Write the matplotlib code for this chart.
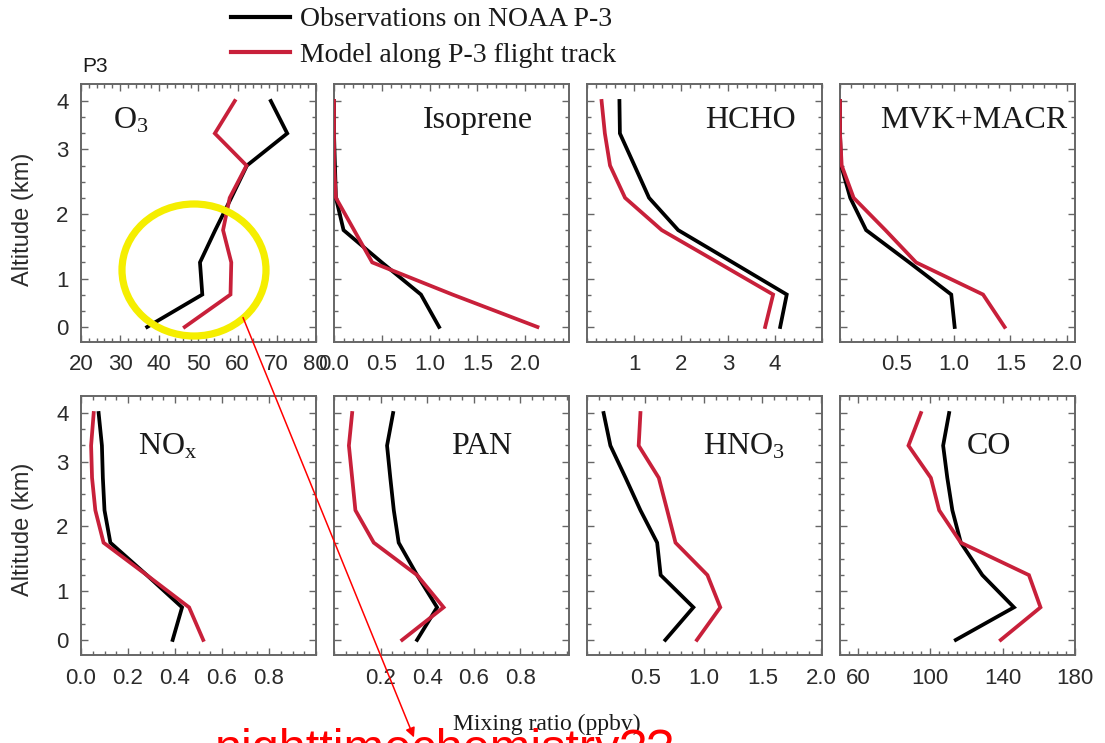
import numpy as np
import matplotlib
matplotlib.use('Agg')
import matplotlib.pyplot as plt
from matplotlib.ticker import FixedLocator, MultipleLocator
from matplotlib.patches import Ellipse, FancyArrowPatch
from matplotlib.lines import Line2D

# ---------------- data ----------------
altitude_km = [0.0, 0.67, 1.25, 1.75, 2.25, 2.75, 3.33, 4.0]

o3_obs = [36.9, 51.0, 50.4, 54.3, 58.4, 62.4, 72.7, 68.5]
o3_mod = [46.5, 58.2, 58.4, 56.3, 58.0, 62.3, 54.2, 59.3]
isop_obs = [1.10, 0.91, 0.50, 0.10, 0.02, 0.01, 0.0, 0.0]
isop_mod = [2.13, 1.24, 0.40, 0.21, 0.02, 0.0, 0.0, 0.0]
hcho_obs = [4.11, 4.25, 3.10, 1.94, 1.32, 1.01, 0.70, 0.69]
hcho_mod = [3.79, 3.96, 2.78, 1.59, 0.81, 0.49, 0.38, 0.31]
mvk_obs = [1.01, 0.98, 0.61, 0.23, 0.09, 0.01, 0.0, 0.0]
mvk_mod = [1.45, 1.26, 0.67, 0.40, 0.12, 0.015, 0.0, 0.0]
nox_obs = [0.39, 0.43, 0.28, 0.125, 0.10, 0.093, 0.089, 0.075]
nox_mod = [0.52, 0.46, 0.28, 0.096, 0.061, 0.047, 0.043, 0.054]
pan_obs = [0.357, 0.443, 0.357, 0.278, 0.257, 0.242, 0.228, 0.254]
pan_mod = [0.293, 0.471, 0.357, 0.171, 0.092, 0.078, 0.064, 0.078]
hno3_obs = [0.67, 0.91, 0.63, 0.60, 0.457, 0.33, 0.20, 0.142]
hno3_mod = [0.94, 1.14, 1.03, 0.757, 0.686, 0.614, 0.442, 0.457]
co_obs = [114.1, 146.3, 128.8, 116.9, 112.2, 109.4, 107.1, 110.4]
co_mod = [139.0, 161.0, 154.6, 116.9, 104.9, 100.3, 87.9, 94.8]

panel_names = [r'O$_3$', 'Isoprene', 'HCHO', 'MVK+MACR',
               r'NO$_\mathrm{x}$', 'PAN', r'HNO$_3$', 'CO']
obs_series = [o3_obs, isop_obs, hcho_obs, mvk_obs, nox_obs, pan_obs, hno3_obs, co_obs]
mod_series = [o3_mod, isop_mod, hcho_mod, mvk_mod, nox_mod, pan_mod, hno3_mod, co_mod]

xtick_values = [[20, 30, 40, 50, 60, 70, 80],
                [0.0, 0.5, 1.0, 1.5, 2.0],
                [1, 2, 3, 4],
                [0.5, 1.0, 1.5, 2.0],
                [0.0, 0.2, 0.4, 0.6, 0.8],
                [0.2, 0.4, 0.6, 0.8],
                [0.5, 1.0, 1.5, 2.0],
                [60, 100, 140, 180]]
xtick_labels = [['20', '30', '40', '50', '60', '70', '80'],
                ['0.0', '0.5', '1.0', '1.5', '2.0'],
                ['1', '2', '3', '4'],
                ['0.5', '1.0', '1.5', '2.0'],
                ['0.0', '0.2', '0.4', '0.6', '0.8'],
                ['0.2', '0.4', '0.6', '0.8'],
                ['0.5', '1.0', '1.5', '2.0'],
                ['60', '100', '140', '180']]
ytick_values = [0, 1, 2, 3, 4]
ytick_labels = ['0', '1', '2', '3', '4']

legend_labels = ['Observations on NOAA P-3', 'Model along P-3 flight track']

# ---------------- style / layout ----------------
plt.rcParams['mathtext.fontset'] = 'custom'
plt.rcParams['mathtext.rm'] = 'Liberation Serif'
plt.rcParams['mathtext.it'] = 'Liberation Serif:italic'

W, H = 1105, 743
fig = plt.figure(figsize=(W / 100, H / 100), dpi=100)


def fx(px):
    return px / W


def fy(py):
    return 1 - py / H


OBS_C = 'black'
MOD_C = '#c8203a'
FRAME_C = '#666666'
TICKLAB_C = '#2b2b2b'

# altitude axis is drawn on a non-uniform (piecewise) scale as in the original
KM_KNOTS = [-1, 0, 1, 2, 3, 4, 5]
U_KNOTS = [-3, 0, 3, 7, 11, 14, 17]


def fwd(y):
    return np.interp(y, KM_KNOTS, U_KNOTS)


def inv(u):
    return np.interp(u, U_KNOTS, KM_KNOTS)


col_left = [81, 334, 587, 840]
row_top = [84, 396]
row_bot = [342, 655]
ax_w = 235
xlims = [(20, 80.05), (0, 2.46), (0, 5.0), (0, 2.07),
         (0, 1.0), (0, 1.01), (0, 2.01), (50, 180.1)]
minor_steps = [2, 0.1, 0.2, 0.1, 0.05, 0.05, 0.1, 5]
label_pos = [(0.136, 0.828), (0.379, 0.828), (0.502, 0.828), (0.17, 0.828),
             (0.243, 0.776), (0.499, 0.776), (0.494, 0.776), (0.538, 0.776)]

for i in range(8):
    r, c = divmod(i, 4)
    left = fx(col_left[c])
    bottom = fy(row_bot[r])
    height = (row_bot[r] - row_top[r]) / H
    ax = fig.add_axes([left, bottom, ax_w / W, height])
    ax.set_yscale('function', functions=(fwd, inv))

    ax.plot(obs_series[i], altitude_km, color=OBS_C, lw=2.7, solid_joinstyle='miter', zorder=3)
    ax.plot(mod_series[i], altitude_km, color=MOD_C, lw=2.7, solid_joinstyle='miter', zorder=4)

    ax.set_xlim(*xlims[i])
    ax.set_ylim(inv(-0.93), inv(15.05))

    ax.xaxis.set_major_locator(FixedLocator(xtick_values[i]))
    ax.set_xticklabels(xtick_labels[i])
    ax.xaxis.set_minor_locator(MultipleLocator(minor_steps[i]))
    ax.yaxis.set_major_locator(FixedLocator(ytick_values))
    ax.yaxis.set_minor_locator(FixedLocator(list(inv(np.arange(0, 15)))))
    if c == 0:
        ax.set_yticklabels(ytick_labels)
    else:
        ax.set_yticklabels([])

    ax.tick_params(which='both', direction='in', top=True, right=True,
                   color=FRAME_C, width=1.0)
    ax.tick_params(which='major', length=5)
    ax.tick_params(which='minor', length=3)
    ax.tick_params(axis='x', which='major', pad=9, labelsize=16,
                   labelcolor=TICKLAB_C)
    ax.tick_params(axis='y', which='major', pad=9, labelsize=16,
                   labelcolor=TICKLAB_C)
    for lab in ax.get_xticklabels() + ax.get_yticklabels():
        lab.set_fontfamily('Liberation Sans')
    for sp in ax.spines.values():
        sp.set_color(FRAME_C)
        sp.set_linewidth(1.4)

    ax.text(label_pos[i][0], label_pos[i][1], panel_names[i], transform=ax.transAxes,
            ha='left', va='baseline', fontsize=23, family='Liberation Serif',
            color='#1a1a1a')

# y axis titles
for ycen in [219, 529]:
    fig.text(fx(23), fy(ycen), 'Altitude (km)', rotation=90, ha='center', va='center',
             fontsize=17, family='Liberation Sans', color='#2b2b2b')

# "P3" label
fig.text(fx(95), fy(67), 'P3', ha='center', va='center', fontsize=15,
         family='Liberation Sans', color='#1a1a1a')

# legend
for ypx, col, lab in [(17, OBS_C, legend_labels[0]), (52, MOD_C, legend_labels[1])]:
    fig.add_artist(Line2D([fx(231), fx(290)], [fy(ypx), fy(ypx)], color=col, lw=3.0,
                          transform=fig.transFigure))
    fig.text(fx(300), fy(ypx + 9.5), lab, ha='left', va='baseline', fontsize=20,
             family='Liberation Serif', color='#1a1a1a')

# x axis title
fig.text(fx(547), fy(730), 'Mixing ratio (ppbv)', ha='center', va='baseline',
         fontsize=17, family='Liberation Serif', color='#1a1a1a')

# annotation: yellow circle, red arrow and cut-off red text
ell = Ellipse((fx(194), fy(270)), width=144 / W, height=132 / H, fill=False,
              edgecolor='#f5ee00', lw=5.2, transform=fig.transFigure, zorder=10)
fig.add_artist(ell)
arr = FancyArrowPatch((fx(242), fy(315)), (fx(415), fy(740)), arrowstyle='-|>',
                      mutation_scale=14, color='red', lw=1.1,
                      transform=fig.transFigure, zorder=10)
fig.add_artist(arr)
fig.text(fx(215), fy(763), 'nighttimechemistry??', ha='left', va='baseline',
         fontsize=35, family='Liberation Sans', color='red', zorder=11)

fig.savefig('out.png', dpi=100)
